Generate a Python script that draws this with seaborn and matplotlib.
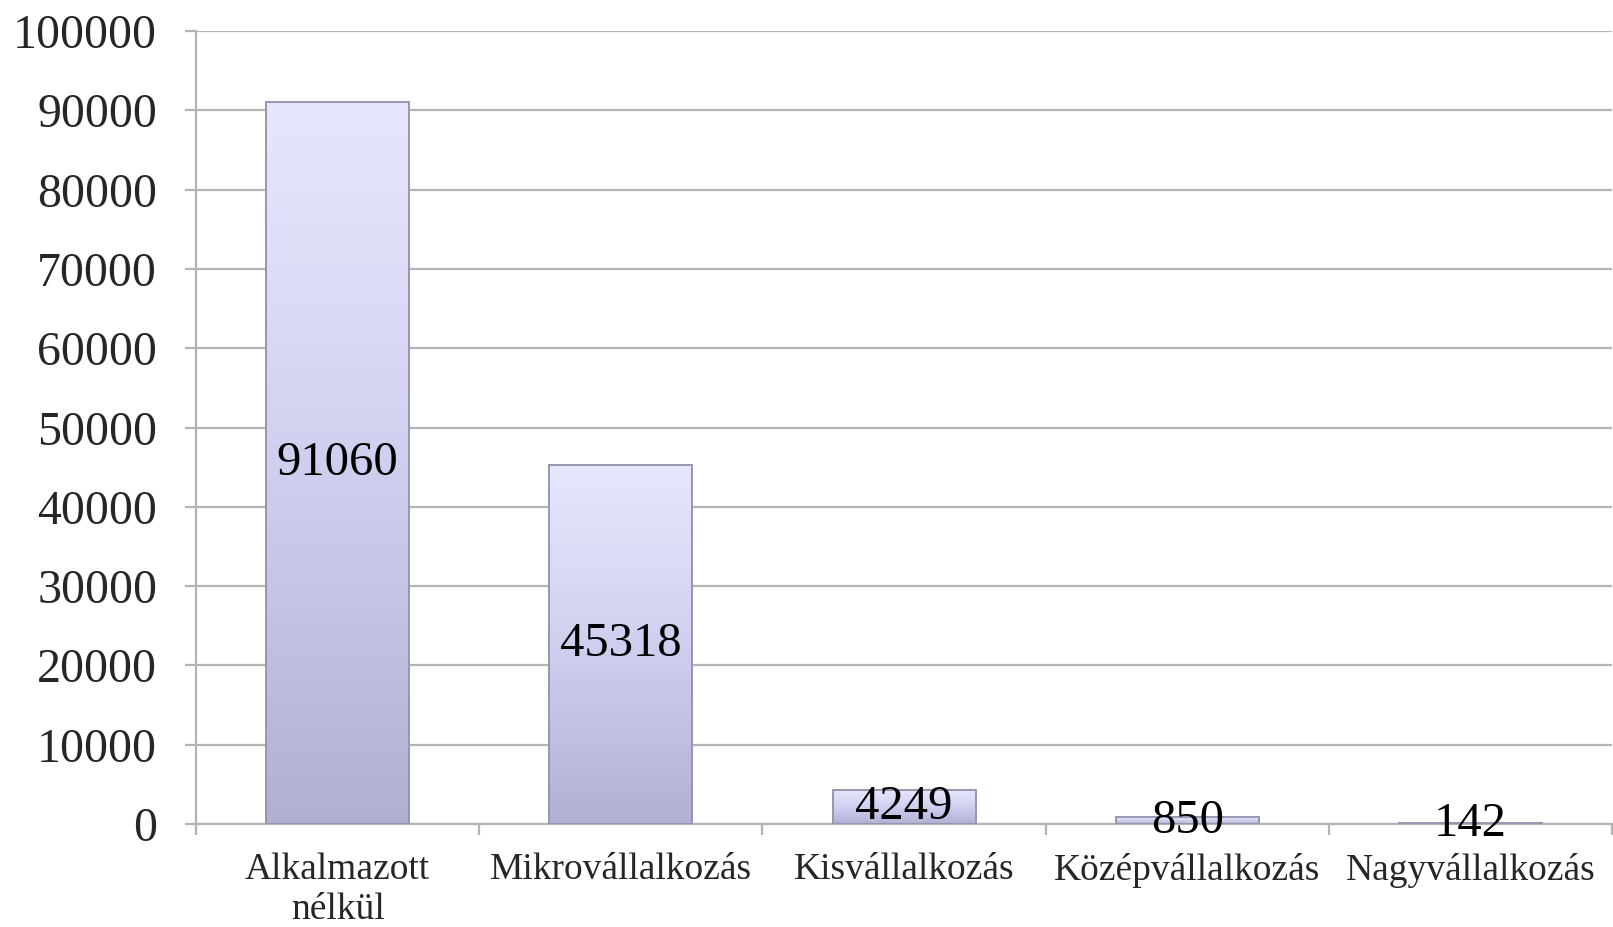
import numpy as np
import pandas as pd
import matplotlib
matplotlib.use("Agg")
import matplotlib.pyplot as plt
import seaborn as sns
from matplotlib.colors import LinearSegmentedColormap

# adatok
categories = ["Alkalmazott\nnélkül", "Mikrovállalkozás", "Kisvállalkozás",
              "Középvállalkozás", "Nagyvállalkozás"]
values = [91060, 45318, 4249, 850, 142]
yticks = [0, 10000, 20000, 30000, 40000, 50000, 60000, 70000, 80000, 90000, 100000]

df = pd.DataFrame({"kat": categories, "db": values})

sns.set_style("white")
plt.rcParams["font.family"] = ["Liberation Serif", "DejaVu Serif"]

fig = plt.figure(figsize=(16.13, 9.27), dpi=100)
ax = fig.add_axes([0.1215, 0.111, 0.878, 0.8555])

sns.barplot(data=df, x="kat", y="db", color="#c8c8e8", width=0.505,
            ax=ax, zorder=3)

# színátmenet a hasábokra
cmap = LinearSegmentedColormap.from_list(
    "lila", [(0, "#b0b0d2"), (0.35, "#c6c6e8"), (0.7, "#dadaf7"), (1, "#e6e6fc")])
grad = np.linspace(0, 1, 256).reshape(-1, 1)
for p in ax.patches:
    x0, w, h = p.get_x(), p.get_width(), p.get_height()
    im = ax.imshow(grad, cmap=cmap, origin="lower", aspect="auto",
                   extent=[x0, x0 + w, 0, h], zorder=2.5)
    im.set_clip_path(p)
    p.set_facecolor("none")
    p.set_edgecolor("#9696ae")
    p.set_linewidth(1.4)

ax.set_xlim(-0.5, len(categories) - 0.5)
ax.set_ylim(0, 100000)
ax.set_yticks(yticks)
ax.set_yticklabels([str(t) for t in yticks])

# értékcímkék a hasábok közepén
for c in ax.containers:
    ax.bar_label(c, labels=[str(v) for v in values], label_type="center",
                 fontsize=35, color="black", zorder=5)

ax.set_axisbelow(True)
ax.yaxis.grid(True, color="#b4b4b4", linewidth=1.6)
ax.xaxis.grid(False)
for s in ["top", "right"]:
    ax.spines[s].set_visible(False)
for s in ["left", "bottom"]:
    ax.spines[s].set_color("#b4b4b4")
    ax.spines[s].set_linewidth(1.6)

ax.tick_params(axis="y", which="major", left=True, length=8, width=1.6,
               color="#b4b4b4", pad=20, labelsize=34.5)
ax.tick_params(axis="x", which="major", bottom=False, pad=17, labelsize=27)
ax.set_xticks(np.arange(-0.5, len(categories), 1.0), minor=True)
ax.tick_params(axis="x", which="minor", bottom=True, length=8, width=1.6,
               color="#b4b4b4")
for t in ax.get_xticklabels():
    t.set_linespacing(1.2)

ax.set_xlabel("")
ax.set_ylabel("")

fig.savefig("out.png", dpi=100, facecolor="white")
